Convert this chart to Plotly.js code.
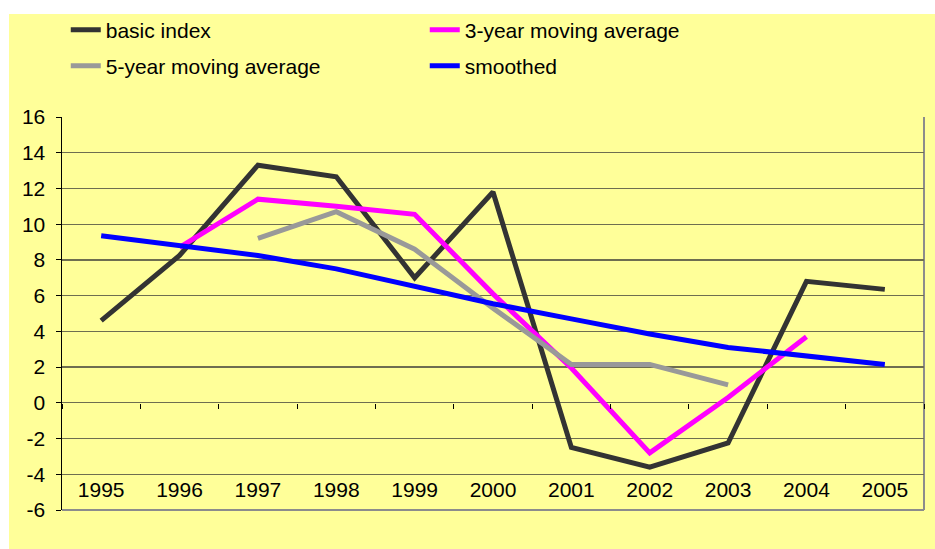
<!DOCTYPE html>
<html>
<head>
<meta charset="utf-8">
<script src="https://cdn.plot.ly/plotly-3.0.1.min.js"></script>
<style>
  html, body { margin: 0; padding: 0; background: #ffffff; width: 935px; height: 549px; overflow: hidden; }
  #chart { position: absolute; left: 9px; top: 14px; width: 926px; height: 535px; }
</style>
</head>
<body>
<div id="chart"></div>
<script>
const years = ["1995","1996","1997","1998","1999","2000","2001","2002","2003","2004","2005"];
const basicIndex = [4.6, 8.25, 13.3, 12.65, 7.0, 11.8, -2.5, -3.6, -2.25, 6.8, 6.35];
const movAvg3 = [null, 8.7, 11.4, 11.0, 10.55, 6.1, 1.95, -2.8, 0.3, 3.7, null];
const movAvg5 = [null, null, 9.2, 10.7, 8.6, 5.3, 2.15, 2.15, 1.0, null, null];
const smoothed = [9.35, 8.8, 8.25, 7.5, 6.55, 5.55, 4.7, 3.85, 3.1, 2.65, 2.15];
const yTicks = [-6, -4, -2, 0, 2, 4, 6, 8, 10, 12, 14, 16];

const FONT = "Arial, 'Liberation Sans', sans-serif";

function line(name, y, color, legend) {
  return {
    type: "scatter", mode: "lines", name: name, x: years, y: y,
    line: { color: color, width: 5 },
    connectgaps: false, legend: legend, hoverinfo: "x+y+name"
  };
}

const data = [
  line("basic index", basicIndex, "#333333", "legend"),
  line("3-year moving average", movAvg3, "#FF00FF", "legend"),
  line("5-year moving average", movAvg5, "#999999", "legend2"),
  line("smoothed", smoothed, "#0000FF", "legend2")
];

const legendCommon = {
  orientation: "h", xref: "container", yref: "container",
  xanchor: "left", yanchor: "middle",
  entrywidth: 314, entrywidthmode: "pixels",
  bgcolor: "rgba(0,0,0,0)", borderwidth: 0,
  font: { family: FONT, size: 21, color: "#000000" },
  traceorder: "normal"
};

const layout = {
  width: 926, height: 535,
  paper_bgcolor: "#FFFF99", plot_bgcolor: "#FFFF99",
  margin: { l: 53, r: 11, t: 103, b: 39 },
  font: { family: FONT, size: 21, color: "#000000" },
  showlegend: true,
  legend: Object.assign({}, legendCommon, { x: 0.0613, y: 1 - 16/535 }),
  legend2: Object.assign({}, legendCommon, { x: 0.0613, y: 1 - 52/535 }),
  xaxis: {
    type: "category", range: [-0.5, 10.5],
    anchor: "free", position: 6/22,
    tickson: "boundaries", ticks: "outside", ticklen: 5, tickwidth: 1, tickcolor: "#000000",
    showline: false, showgrid: false, zeroline: false,
    ticklabelstandoff: 72,
    tickfont: { family: FONT, size: 21, color: "#000000" },
    fixedrange: true
  },
  yaxis: {
    range: [-6, 16], tickvals: yTicks, ticktext: yTicks.map(String),
    showline: true, linecolor: "#000000", linewidth: 1.5,
    ticks: "outside", ticklen: 5, tickcolor: "#000000", tickwidth: 1,
    showgrid: true, gridcolor: "#6e6e50", gridwidth: 1.3,
    zeroline: true, zerolinecolor: "#6e6e50", zerolinewidth: 1.3,
    ticklabelstandoff: 6,
    tickfont: { family: FONT, size: 21, color: "#000000" },
    fixedrange: true
  },
  shapes: [
    { type: "line", xref: "paper", yref: "paper", x0: 1, x1: 1, y0: 0, y1: 1,
      line: { color: "#8c8c8c", width: 2 }, layer: "below" },
    { type: "line", xref: "paper", yref: "paper", x0: 0, x1: 1, y0: 0, y1: 0,
      line: { color: "#8c8c8c", width: 2 }, layer: "below" }
  ]
};

Plotly.newPlot("chart", data, layout, { displayModeBar: false, staticPlot: true });
</script>
</body>
</html>
